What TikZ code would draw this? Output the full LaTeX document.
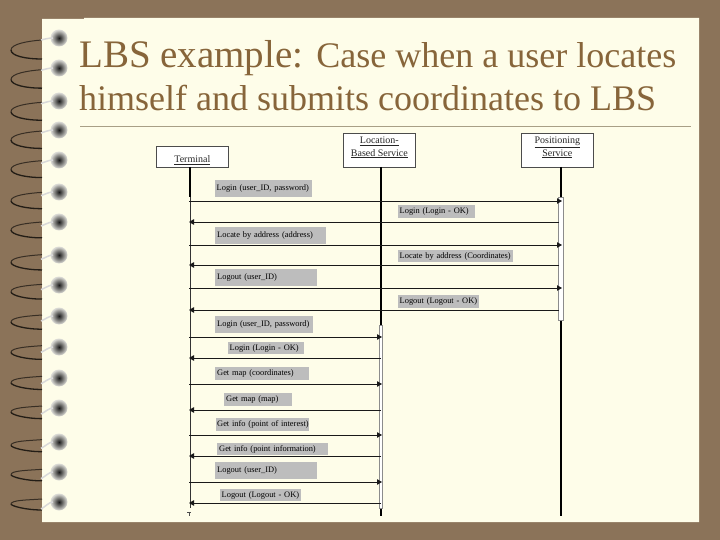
\documentclass[tikz,border=0pt]{standalone}
\usepackage{fontspec}
\setmainfont{Liberation Serif}
\usetikzlibrary{arrows.meta}
\definecolor{pagebg}{HTML}{8B7359}
\definecolor{paper}{HTML}{FEFDE9}
\definecolor{titlec}{HTML}{87653A}
\definecolor{rulec}{HTML}{A89F86}
\definecolor{lbl}{HTML}{BDBDBD}
\tikzset{
  x=1pt,y=-1pt,
  actor/.style={draw=black!70,line width=0.7pt,fill=white,font=\fontsize{10}{12.5}\selectfont,align=center,inner sep=0pt,anchor=north west,text=black!85,text height=8.5pt,text depth=0pt},
  msg/.style={fill=lbl,font=\fontsize{8.4}{9}\selectfont,text=black,inner sep=0pt,anchor=north west,align=left},
  title/.style={text=titlec,inner sep=0pt,anchor=base west},
  life/.style={black,line width=2pt},
  call/.style={black!90,line width=0.9pt,-{Triangle[length=5pt,width=5.5pt]}},
  act/.style={draw=black!45,fill=white,line width=0.6pt},
}
\newcommand{\msgbox}[6]{\node[msg,text width=#3pt,minimum height=#4pt] (#1) at (#2) {\hspace*{#5pt}#6};}
\begin{document}
\begin{tikzpicture}
\useasboundingbox (0,0) rectangle (720,540);
\fill[pagebg] (0,0) rectangle (720,540);
\fill[paper] (42,19) -- (84,19) -- (84,18) -- (699,18) -- (699,522) -- (42,522) -- cycle;
% spiral binding
\foreach \y in {38,68,101,130,160,192,222,255,285,316,347,378,408,442,472,502}{
  \pgfmathsetmacro{\tp}{(\y-38)/464}
  \pgfmathsetmacro{\tip}{12-10*\tp}
  \pgfmathsetmacro{\low}{21-13*\tp}
  \draw[black!75!pagebg,line width=1.3pt] (11,\y+\tip) .. controls (11,\y+\tip+6-4*\tp) and (26,\y+\low) .. (42,\y+\low);
  \draw[black!60!pagebg,line width=1pt] (42,\y+2-5*\tp) .. controls (28,\y+3-5*\tp) and (11,\y+\tip-6+2*\tp) .. (11,\y+\tip);
  \shade[inner color=black!90,middle color=black!75!paper,outer color=paper!70!black!40] (59,\y) circle (8.5);
  \draw[white!70!gray,line width=1.5pt] (41,\y+2+5*\tp) .. controls (45,\y+1+4*\tp) and (49,\y) .. (53,\y);
}
% title
\node[title] (title1) at (79,67.5) {\fontsize{39}{42}\selectfont LBS example: \fontsize{36}{40}\selectfont Case when a user locates};
\node[title,font=\fontsize{36}{40}\selectfont] (title2) at (79,111) {himself and submits coordinates to LBS};
\draw[rulec,line width=0.8pt] (80,126) coordinate (ra) -- (691,126) coordinate (rb);
% actors
\node[actor,minimum width=72pt,minimum height=21pt] (term) at (156,146) {\raisebox{-1.5pt}{\underline{Terminal}}};
\node[actor,minimum width=72pt,minimum height=34pt] (lbs) at (343,133) {\raisebox{-1.5pt}{\underline{Location-}}\\\raisebox{-1.5pt}{\underline{Based Service}}};
\node[actor,minimum width=72pt,minimum height=34pt] (pos) at (521,133) {\raisebox{-1.5pt}{\underline{Positioning}}\\\raisebox{-1.5pt}{\underline{Service}}};
\coordinate (termA) at (190,197);
\coordinate (termB) at (190,508);
\coordinate (lbsA) at (380.5,325);
\coordinate (lbsB) at (380.5,508);
\coordinate (lbsEnd) at (380.5,516);
\coordinate (posA) at (560.5,197);
\coordinate (posB) at (560.5,320);
\coordinate (posEnd) at (560.5,516);
% lifelines
\draw[life] (190,167) -- (termA);
\draw[black!80,line width=0.8pt] (termA) -- (termB);
\draw[life] (380.5,167) -- (lbsA);
\draw[life] (lbsB) -- (lbsEnd);
\draw[life] (560.5,167) -- (posA);
\draw[life] (posB) -- (posEnd);
\draw[black!70,line width=0.6pt] (187,512) -- (191,512);
\draw[black!70,line width=0.6pt] (189,512) -- (189,516);
% labels
\msgbox{m1}{215,180}{97}{17}{1.5}{Login (user\_ID, password)}
\msgbox{m2}{398,205}{77}{13}{1.5}{Login (Login - OK)}
\msgbox{m3}{215,227}{111}{17}{2}{Locate by address (address)}
\msgbox{m4}{398,250}{115}{12}{1.5}{Locate by address (Coordinates)}
\msgbox{m5}{215,269}{102}{17}{2}{Logout (user\_ID)}
\msgbox{m6}{398,295}{81}{13}{1.5}{Logout (Logout - OK)}
\msgbox{m7}{215,316}{98}{17}{2}{Login (user\_ID, password)}
\msgbox{m8}{228,342}{76}{12}{1.5}{Login (Login - OK)}
\msgbox{m9}{215,367}{94}{13}{2}{Get map (coordinates)}
\msgbox{m10}{224,393}{68}{13}{2}{Get map (map)}
\msgbox{m11}{216,418}{93}{13}{1}{Get info (point of interest)}
\msgbox{m12}{217,443}{111}{12}{2}{Get info (point information)}
\msgbox{m13}{215,462}{102}{17}{2}{Logout (user\_ID)}
\msgbox{m14}{220,489}{81}{12}{1.5}{Logout (Logout - OK)}
% activation bars
\draw[act] (558,197) rectangle (563,320);
\draw[act] (379,325) rectangle (382.5,508);
% message connectors
\foreach \i/\y in {1/201,3/245,5/288}{
  \coordinate (a\i) at (189,\y); \coordinate (b\i) at (562,\y);
  \draw[call] (a\i) -- (b\i);}
\foreach \i/\y in {2/222,4/265,6/310}{
  \coordinate (a\i) at (559,\y); \coordinate (b\i) at (189,\y);
  \draw[call] (a\i) -- (b\i);}
\foreach \i/\y in {7/337,9/384,11/435,13/482}{
  \coordinate (a\i) at (189,\y); \coordinate (b\i) at (382,\y);
  \draw[call] (a\i) -- (b\i);}
\foreach \i/\y in {8/358,10/410,12/456,14/503}{
  \coordinate (a\i) at (381,\y); \coordinate (b\i) at (189,\y);
  \draw[call] (a\i) -- (b\i);}
\end{tikzpicture}
\end{document}
